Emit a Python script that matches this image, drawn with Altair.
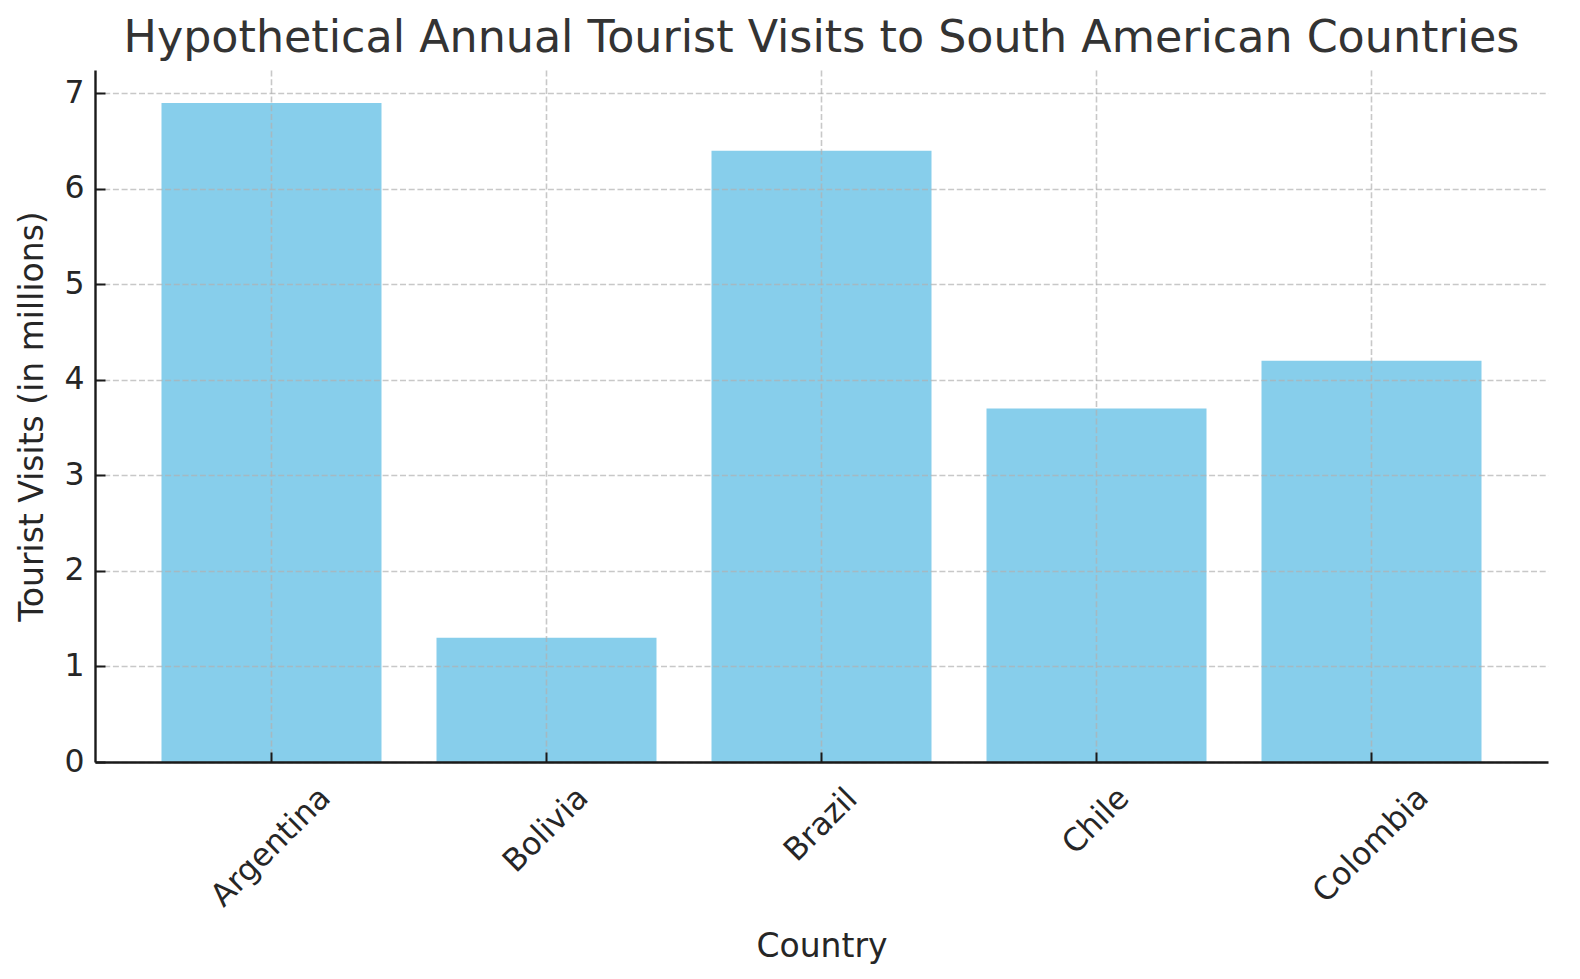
import altair as alt
import pandas as pd

# ---- data ----
countries = ["Argentina", "Bolivia", "Brazil", "Chile", "Colombia"]
visits = [6.9, 1.3, 6.4, 3.7, 4.2]
y_ticks = [0, 1, 2, 3, 4, 5, 6, 7]

df = pd.DataFrame({"Country": countries, "Visits": visits})

W, H = 1453, 692
FONT = "DejaVu Sans"
INK = "#262626"
AXIS_INK = "#1a1a1a"
TICK_IN = alt.ExprRef("-10")  # ticks drawn inside the plot (matplotlib style)

# per-label padding so the rotated labels hang from a common top edge
label_pad = {"Argentina": 95, "Bolivia": 78, "Brazil": 73, "Chile": 69, "Colombia": 93}
pad_cond = {
    "condition": [{"test": f"datum.value === '{k}'", "value": v} for k, v in label_pad.items()],
    "value": 82,
}

chart = (
    alt.Chart(df)
    .mark_bar(color="#87CEEB")
    .encode(
        x=alt.X(
            "Country:N",
            sort=None,
            scale=alt.Scale(paddingInner=0.2, paddingOuter=0.2418),
            axis=alt.Axis(
                title="Country",
                titlePadding=18,
                labelAngle=315,
                labelAlign="center",
                labelBaseline="middle",
                labelPadding=pad_cond,
                labelOverlap=False,
                bandPosition=0.5,
                ticks=True,
                tickSize=TICK_IN,
                zindex=1,
            ),
        ),
        y=alt.Y(
            "Visits:Q",
            scale=alt.Scale(domain=[0, 7.245], nice=False, zero=True),
            axis=alt.Axis(
                values=y_ticks,
                format="d",
                title="Tourist Visits (in millions)",
                titlePadding=14,
                labelPadding=21,
                ticks=True,
                tickSize=TICK_IN,
                zindex=1,
            ),
        ),
    )
    .properties(
        width=W,
        height=H,
        autosize=alt.AutoSizeParams(type="none"),
        padding={"left": 87, "top": 62, "right": 10, "bottom": 205},
        title=alt.TitleParams(
            "Hypothetical Annual Tourist Visits to South American Countries",
            fontSize=44.4,
            font=FONT,
            color="#333333",
            fontWeight="normal",
            anchor="middle",
            frame="group",
            offset=16,
            dy=42,
            baseline="alphabetic",
        ),
        background="white",
    )
    .configure_view(stroke=None)
    .configure_axis(
        labelFont=FONT,
        labelFontSize=31.5,
        labelColor=INK,
        titleFont=FONT,
        titleFontSize=33,
        titleColor=INK,
        titleFontWeight="normal",
        domainColor=AXIS_INK,
        domainWidth=2.4,
        tickColor=AXIS_INK,
        tickWidth=2,
        grid=True,
        gridColor="#b0b0b0",
        gridOpacity=0.7,
        gridDash=[6, 2.7],
        gridWidth=1.6,
    )
)

chart.save("out.html", embed_options={"renderer": "svg", "actions": False})
